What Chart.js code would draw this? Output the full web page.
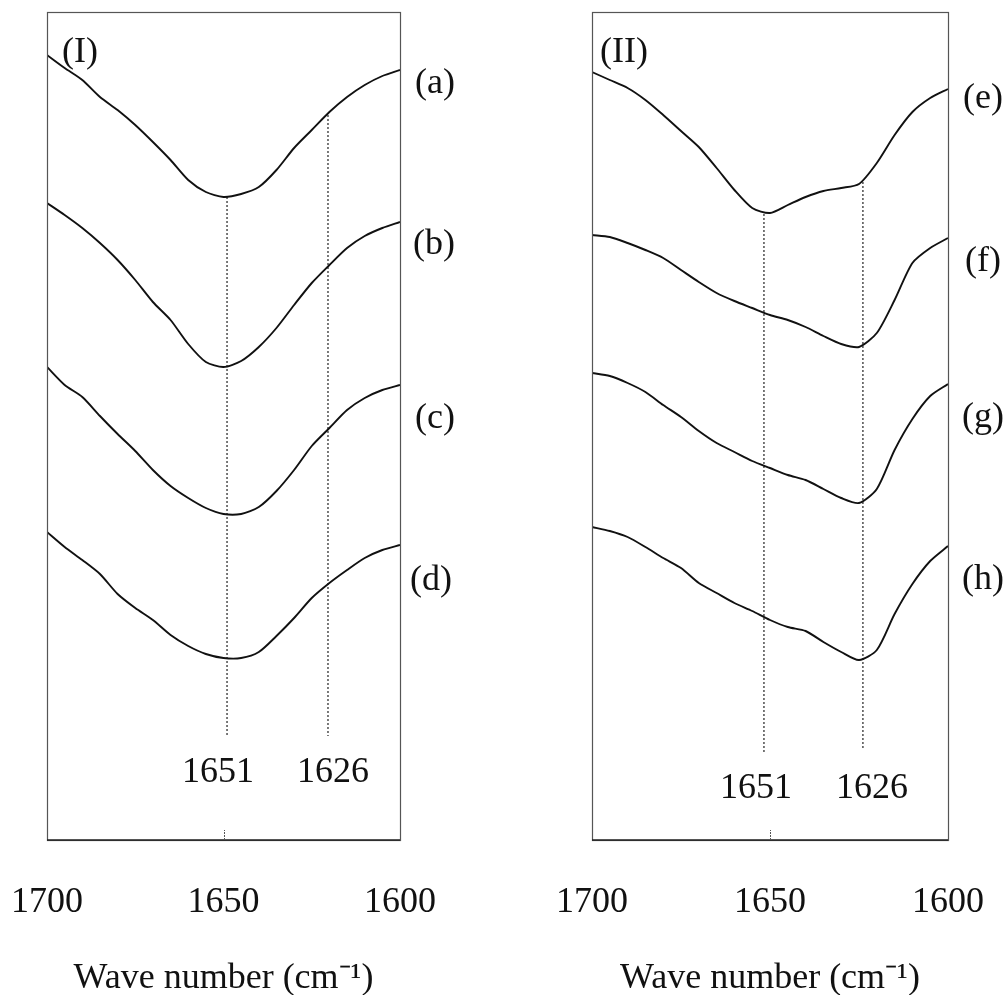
<!DOCTYPE html>
<html>
<head>
<meta charset="utf-8">
<script src="https://cdn.jsdelivr.net/npm/chart.js@4.4.1/dist/chart.umd.min.js"></script>
<style>
  html, body { margin: 0; padding: 0; background: #fff; overflow: hidden; width: 1005px; height: 995px; }
  canvas { position: absolute; top: 0; }
  #c1 { left: 0; }
  #c2 { left: 500px; }
</style>
</head>
<body>
<canvas id="c1" width="500" height="1000"></canvas>
<canvas id="c2" width="505" height="1000"></canvas>
<script>
// ---- Data (transmittance, arbitrary units with vertical offsets) ----
const wavenumbers = [1700,1695,1690,1685,1680,1675,1670,1665,1660,1655,1650,1645,1640,1635,1630,1625,1620,1615,1610,1605,1600];
const xTicks = [1700, 1650, 1600];

// Panel (I)
const seriesA = [785,772,760,743,730,715,698,680,660,648,643,646,653,670,692,710,728,743,755,764,770];
const seriesB = [637,625,612,597,580,560,538,520,496,478,473,479,493,512,535,557,575,592,604,612,618];
const seriesC = [473,455,443,424,406,389,370,354,342,332,326,326,333,349,370,394,412,430,442,450,455];
const seriesD = [308,293,280,266,246,232,220,205,194,186,182,182,188,204,222,242,257,270,282,290,295];

// Panel (II)
const seriesE = [768,760,752,740,725,709,693,672,650,632,627,635,643,649,652,656,677,705,728,742,751];
const seriesF = [605,603,597,590,582,570,558,547,539,532,525,520,513,504,496,493,507,540,577,592,602];
const seriesG = [467,464,457,448,435,423,409,397,388,379,372,365,360,351,342,337,351,390,421,444,456];
const seriesH = [313,309,303,293,282,272,257,247,237,229,220,213,209,198,188,180,190,226,256,279,294];

const curveLabelsI = ['(a)','(b)','(c)','(d)'];
const curveLabelsII = ['(e)','(f)','(g)','(h)'];
const panelTitles = ['(I)','(II)'];
const axisTitle = 'Wave number (cm\u207B\u00B9)';

// Band markers (label text, and where the dotted line is drawn in the figure)
const markerLabels = ['1651','1626'];
const markerPosI = [1649.0, 1620.4];
const markerPosII = [1651.7, 1623.9];
const markerTopI = [643, 725];
const markerTopII = [626, 658];
const markerBottomI = [104, 104];
const markerBottomII = [87, 92];

// ---- Styling ----
const FONT = '"Liberation Serif", "Times New Roman", serif';
const FS = 36;

function curveDataset(label, vals) {
  return {
    label: label,
    data: wavenumbers.map((x, i) => ({x: x, y: vals[i]})),
    borderColor: '#111',
    borderWidth: 1.9,
    pointRadius: 0,
    tension: 0.25,
    fill: false
  };
}
function markerDataset(pos, top, bottom) {
  return {
    label: 'marker',
    data: [{x: pos, y: top}, {x: pos, y: bottom}],
    borderColor: '#333',
    borderWidth: 1.3,
    borderDash: [2, 2],
    pointRadius: 0,
    fill: false
  };
}

const annotPlugin = {
  id: 'annot',
  afterDatasetsDraw(chart, args, o) {
    const ctx = chart.ctx;
    const ca = chart.chartArea;
    const xs = chart.scales.x, ys = chart.scales.y;
    ctx.save();
    // frame
    ctx.strokeStyle = '#555';
    ctx.lineWidth = 1.2;
    ctx.setLineDash([]);
    ctx.strokeRect(ca.left + 0.5, ca.top + 0.5, ca.right - ca.left, ca.bottom - ca.top);
    ctx.strokeStyle = '#222';
    ctx.lineWidth = 1.6;
    ctx.beginPath();
    ctx.moveTo(ca.left, ca.bottom); ctx.lineTo(ca.right, ca.bottom);
    ctx.stroke();
    // small inner tick at 1650
    ctx.strokeStyle = '#555';
    ctx.lineWidth = 1;
    ctx.setLineDash([2, 1]);
    const tx = Math.round(xs.getPixelForValue(1650)) + 0.5;
    ctx.beginPath();
    ctx.moveTo(tx, ca.bottom); ctx.lineTo(tx, ca.bottom - 10);
    ctx.stroke();
    ctx.setLineDash([]);
    // texts
    ctx.fillStyle = '#111';
    ctx.font = FS + 'px ' + FONT;
    ctx.textBaseline = 'alphabetic';
    ctx.textAlign = 'left';
    ctx.fillText(o.title, ca.left + o.titleDx, ca.top + 50);
    o.curveLabels.forEach((t, i) => {
      ctx.fillText(t, ca.right + o.labelDx[i], ys.getPixelForValue(o.labelY[i]));
    });
    ctx.textAlign = 'center';
    o.markerPos.forEach((p, i) => {
      ctx.fillText(markerLabels[i], xs.getPixelForValue(p) + o.markerDx[i], ys.getPixelForValue(o.markerY));
    });
    ctx.restore();
  }
};

function makePanel(id, datasets, padding, annot) {
  return new Chart(document.getElementById(id), {
    type: 'line',
    data: { datasets: datasets },
    options: {
      responsive: false,
      animation: false,
      devicePixelRatio: 1,
      layout: { padding: padding },
      plugins: { legend: { display: false }, tooltip: { enabled: false }, annot: annot },
      scales: {
        x: {
          type: 'linear',
          reverse: true,
          min: 1600, max: 1700,
          afterBuildTicks: (s) => { s.ticks = xTicks.map(v => ({value: v})); },
          afterFit: (s) => { s.height = 160; s.paddingLeft = 0; s.paddingRight = 0; },
          grid: { display: false, drawTicks: false },
          border: { display: false },
          ticks: {
            padding: 41,
            color: '#111',
            font: { family: FONT, size: FS },
            maxRotation: 0,
            autoSkip: false,
            callback: (v) => String(v)
          },
          title: {
            display: true,
            text: axisTitle,
            color: '#111',
            font: { family: FONT, size: FS },
            padding: { top: 0, bottom: 0 }
          }
        },
        y: { display: false, min: 0, max: 828 }
      }
    },
    plugins: [annotPlugin]
  });
}

makePanel('c1', [
  curveDataset(curveLabelsI[0], seriesA),
  curveDataset(curveLabelsI[1], seriesB),
  curveDataset(curveLabelsI[2], seriesC),
  curveDataset(curveLabelsI[3], seriesD),
  markerDataset(markerPosI[0], markerTopI[0], markerBottomI[0]),
  markerDataset(markerPosI[1], markerTopI[1], markerBottomI[1])
], { left: 47, right: 100, top: 12, bottom: 0 }, {
  title: panelTitles[0], titleDx: 15,
  curveLabels: curveLabelsI, labelDx: [15, 13, 15, 10], labelY: [747, 586, 412, 250],
  markerPos: markerPosI, markerDx: [-9, 5], markerY: 58
});

makePanel('c2', [
  curveDataset(curveLabelsII[0], seriesE),
  curveDataset(curveLabelsII[1], seriesF),
  curveDataset(curveLabelsII[2], seriesG),
  curveDataset(curveLabelsII[3], seriesH),
  markerDataset(markerPosII[0], markerTopII[0], markerBottomII[0]),
  markerDataset(markerPosII[1], markerTopII[1], markerBottomII[1])
], { left: 92, right: 57, top: 12, bottom: 0 }, {
  title: panelTitles[1], titleDx: 8,
  curveLabels: curveLabelsII, labelDx: [15, 17, 14, 14], labelY: [732, 569, 413, 251],
  markerPos: markerPosII, markerDx: [-8, 9], markerY: 42
});
</script>
</body>
</html>
